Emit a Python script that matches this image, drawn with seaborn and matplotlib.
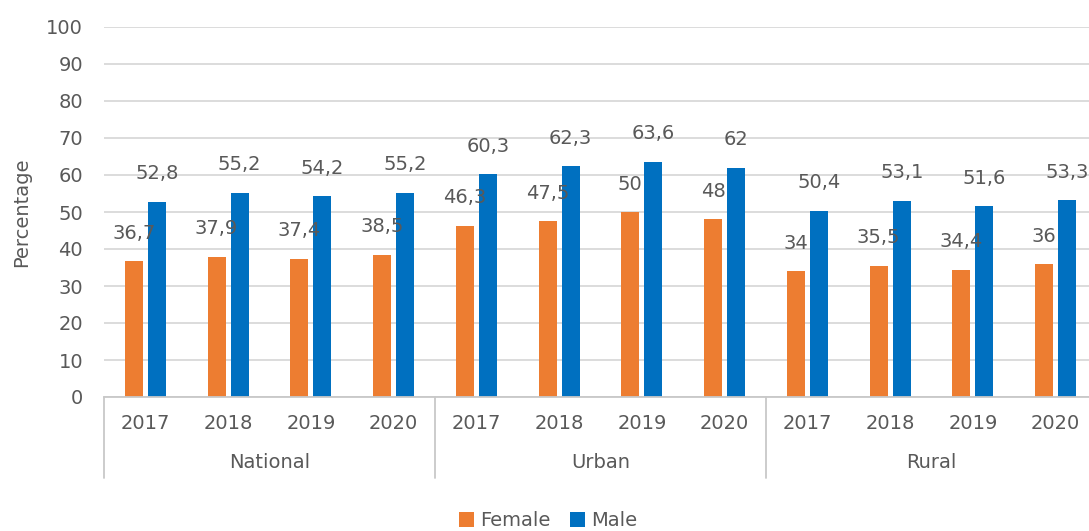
import matplotlib
matplotlib.use("Agg")
import matplotlib.pyplot as plt
import seaborn as sns
import pandas as pd
from matplotlib.patches import Patch

groups = ["National", "Urban", "Rural"]
years = ["2017", "2018", "2019", "2020"]
female = [36.7, 37.9, 37.4, 38.5, 46.3, 47.5, 50, 48, 34, 35.5, 34.4, 36]
male = [52.8, 55.2, 54.2, 55.2, 60.3, 62.3, 63.6, 62, 50.4, 53.1, 51.6, 53.3]
series = ["Female", "Male"]
colors = ["#ED7D31", "#0070C0"]

cats = [f"{g} {y}" for g in groups for y in years]
df = pd.DataFrame({
    "cat": cats * 2,
    "value": female + male,
    "sex": ["Female"] * len(cats) + ["Male"] * len(cats),
})

sns.set_style("white")
plt.rcParams["font.family"] = ["DejaVu Sans"]
txt = "#595959"
fs = 14

fig = plt.figure(figsize=(10.89, 5.31), dpi=100)
ax = fig.add_axes([104 / 1089, 134 / 531, 993 / 1089, 370 / 531])

sns.barplot(data=df, x="cat", y="value", hue="sex", order=cats, hue_order=series,
            palette=colors, width=0.56, gap=0.22, ax=ax, legend=False,
            saturation=1, edgecolor="none")

ax.set_ylim(0, 100)
ax.set_xlim(-0.5, len(cats) - 0.5)
ax.set_yticks(range(0, 101, 10))
ax.yaxis.grid(True, color="#d9d9d9", linewidth=1.3)
ax.set_axisbelow(True)
for s in ["left", "right", "top"]:
    ax.spines[s].set_visible(False)
ax.spines["bottom"].set_color("#c8c8c8")
ax.spines["bottom"].set_linewidth(1.3)
ax.tick_params(axis="y", length=0, pad=15, labelsize=fs, labelcolor=txt)
ax.set_xticks(range(len(cats)))
ax.set_xticklabels(years * len(groups))
ax.tick_params(axis="x", length=0, pad=12, labelsize=fs, labelcolor=txt)
ax.set_xlabel("")
ax.set_ylabel("")

def fmt(v):
    s = f"{v:g}"
    return s.replace(".", ",")

for container in ax.containers:
    for rect in container:
        h = rect.get_height()
        ax.annotate(fmt(h), (rect.get_x() + rect.get_width() / 2, h),
                    xytext=(0, 20), textcoords="offset points",
                    ha="center", va="center", fontsize=fs, color=txt)

trans = ax.get_xaxis_transform()
for b in [-0.5, 3.5, 7.5, 11.5]:
    ax.plot([b, b], [0, -0.219], transform=trans, color="#c8c8c8",
            linewidth=1.3, clip_on=False)
for i, g in enumerate(groups):
    ax.text(i * 4 + 1.5, -0.178, g, transform=trans, ha="center", va="center",
            fontsize=fs, color=txt)

fig.text(22 / 1089, 0.5 * (1 - 27 / 531 + 1 - 397 / 531), "Percentage",
         rotation=90, ha="center", va="center", fontsize=fs, color=txt)

handles = [Patch(facecolor=c, edgecolor="none") for c in colors]
fig.legend(handles, series, loc="center", bbox_to_anchor=(548 / 1089, 1 - 521 / 531),
           ncol=2, frameon=False, fontsize=fs, handlelength=0.8, handleheight=0.8,
           handletextpad=0.3, columnspacing=1.0, labelcolor=txt)

fig.savefig("out.png", dpi=100)
